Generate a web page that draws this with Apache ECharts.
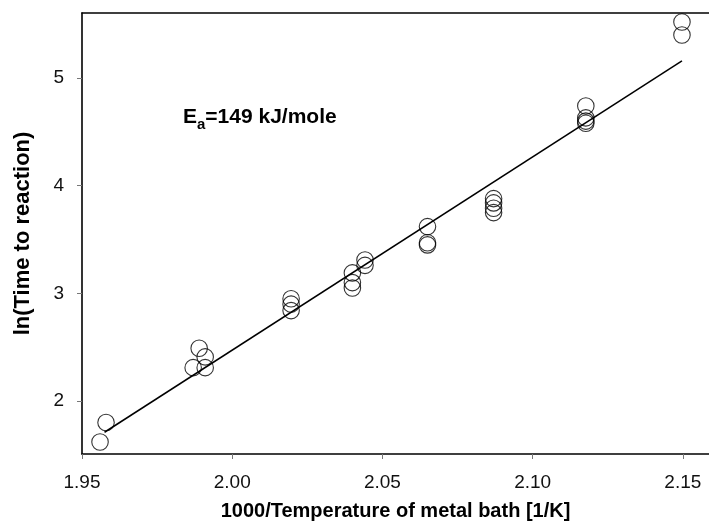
<!DOCTYPE html>
<html>
<head>
<meta charset="utf-8">
<script src="https://cdn.jsdelivr.net/npm/echarts@6/dist/echarts.min.js"></script>
<style>html,body{margin:0;padding:0;background:#fff}#c{width:709px;height:528px}</style>
</head>
<body>
<div id="c"></div>
<script>
// Data
var xTicks = [1.95, 2.00, 2.05, 2.10, 2.15];
var yTicks = [2, 3, 4, 5];
var xVals = [1.956, 1.958, 1.987, 1.989, 1.991, 1.991, 2.0196, 2.0196, 2.0196, 2.040, 2.040, 2.040, 2.0442, 2.0442, 2.065, 2.065, 2.065, 2.087, 2.087, 2.087, 2.087, 2.1177, 2.1177, 2.1177, 2.1177, 2.1497, 2.1497];
var yVals = [1.62, 1.80, 2.31, 2.49, 2.41, 2.31, 2.95, 2.90, 2.84, 3.19, 3.10, 3.05, 3.31, 3.26, 3.62, 3.47, 3.45, 3.88, 3.84, 3.79, 3.75, 4.74, 4.63, 4.60, 4.58, 5.52, 5.40];
var fitX = [1.9575, 2.1497];
var fitY = [1.71, 5.16];

var pts = xVals.map(function (x, i) { return [x, yVals[i]]; });
var fit = fitX.map(function (x, i) { return [x, fitY[i]]; });

var FONT = '"Liberation Sans", Arial, Helvetica, sans-serif';
var chart = echarts.init(document.getElementById('c'), null, { renderer: 'canvas' });
chart.setOption({
  animation: false,
  backgroundColor: '#fff',
  grid: { left: 82, top: 13, right: 0, bottom: 74, containLabel: false },
  xAxis: [{
    type: 'value', min: 1.95, max: 2.1587, position: 'bottom',
    splitLine: { show: false },
    axisLine: { show: true, onZero: false, lineStyle: { color: '#000', width: 1.6 } },
    axisTick: { show: true, inside: false, length: 5, customValues: xTicks, lineStyle: { color: '#777', width: 1 } },
    axisLabel: { customValues: xTicks, margin: 19, fontFamily: FONT, fontSize: 19, color: '#111',
      formatter: function (v) { return v.toFixed(2); } },
    name: '1000/Temperature of metal bath [1/K]', nameLocation: 'middle', nameGap: 47,
    nameTextStyle: { fontFamily: FONT, fontSize: 20, fontWeight: 'bold', color: '#000' }
  }, {
    type: 'value', min: 1.95, max: 2.1587, position: 'top',
    splitLine: { show: false },
    axisLine: { show: true, onZero: false, lineStyle: { color: '#000', width: 1.6 } },
    axisTick: { show: false }, axisLabel: { show: false }
  }],
  yAxis: {
    type: 'value', min: 1.508, max: 5.604,
    splitLine: { show: false },
    axisLine: { show: true, onZero: false, lineStyle: { color: '#000', width: 1.6 } },
    axisTick: { show: true, inside: false, length: 5, customValues: yTicks, lineStyle: { color: '#777', width: 1 } },
    axisLabel: { customValues: yTicks, margin: 18, fontFamily: FONT, fontSize: 19, color: '#111' },
    name: 'ln(Time to reaction)', nameLocation: 'middle', nameGap: 48,
    nameTextStyle: { fontFamily: FONT, fontSize: 22, fontWeight: 'bold', color: '#000' }
  },
  graphic: [{
    type: 'text', left: 183, top: 103,
    style: {
      text: '{e|E}{s|a}{e|=149 kJ/mole}',
      rich: {
        e: { fontFamily: FONT, fontSize: 21, fontWeight: 'bold', fill: '#000', lineHeight: 24 },
        s: { fontFamily: FONT, fontSize: 15, fontWeight: 'bold', fill: '#000', padding: [14, 0, 0, 0], lineHeight: 24 }
      }
    }
  }],
  series: [{
    type: 'line', data: fit, xAxisIndex: 0, symbol: 'none',
    lineStyle: { color: '#000', width: 1.5 }, silent: true, z: 2
  }, {
    type: 'scatter', data: pts, xAxisIndex: 0, symbol: 'circle', symbolSize: 16.5,
    itemStyle: { color: 'rgba(0,0,0,0)', borderColor: '#000', borderWidth: 1.1 }, z: 3
  }]
});
</script>
</body>
</html>
